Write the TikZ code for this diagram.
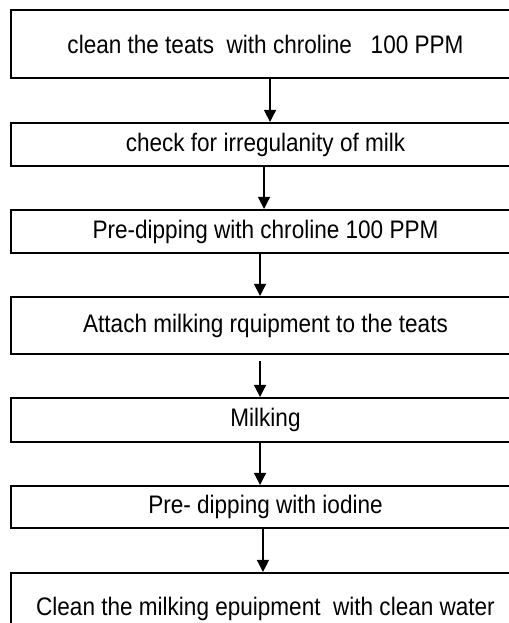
\documentclass[tikz,border=0pt]{standalone}
\usepackage{fontspec}
\setmainfont{Liberation Sans}[FakeStretch=0.89]
\usetikzlibrary{arrows.meta}

\tikzset{every picture/.style={line width=0.75pt}}
\tikzset{stepbox/.style={draw, line width=1.6pt, minimum width=381.75pt, inner sep=0pt, font=\fontsize{19}{21}\selectfont},
  flow/.style={-{Triangle[length=9pt,width=9pt]}, line width=1pt}}

\begin{document}
\begin{tikzpicture}[x=0.75pt,y=0.75pt,yscale=-1,xscale=1]
%set diagram to 509 x 623, boxes run past the right and bottom edge
\useasboundingbox (0,0) rectangle (509,623);
\clip (0,0) rectangle (509,623);

% Step Boxes
\node [stepbox, minimum height=51pt] (clean) at (265.5,44) {clean the teats\ \ with chroline\ \ \ 100 PPM};
\node [stepbox, minimum height=32.25pt] (check) at (265.5,144.5) {check for irregulanity of milk};
\node [stepbox, minimum height=32.25pt] (predipcl) at (265.5,231.5) {Pre-dipping with chroline 100 PPM};
\node [stepbox, minimum height=42.75pt] (attach) at (265.5,325.5) {Attach milking rquipment to the teats};
\node [stepbox, minimum height=33pt] (milking) at (265.5,420) {Milking};
\node [stepbox, minimum height=31.5pt] (predipio) at (265.5,507) {Pre- dipping with iodine};
\node [stepbox, minimum height=54pt] (wash) at (265.5,609) {Clean the milking epuipment\ \ with clean water};

% Arrows
\draw [flow] ([xshift=3.4pt]clean.south) -- ([xshift=3.4pt]check.north);
\draw [flow] ([xshift=-1.1pt]check.south) -- ([xshift=-1.1pt]predipcl.north);
\draw [flow] ([xshift=-4.1pt]predipcl.south) -- ([xshift=-4.1pt]attach.north);
\draw [flow, shorten <=4.5pt] ([xshift=-4.1pt]attach.south) -- ([xshift=-4.1pt]milking.north);
\draw [flow] ([xshift=-4.1pt]milking.south) -- ([xshift=-4.1pt]predipio.north);
\draw [flow] ([xshift=-1.9pt]predipio.south) -- ([xshift=-1.9pt]wash.north);

\end{tikzpicture}
\end{document}
